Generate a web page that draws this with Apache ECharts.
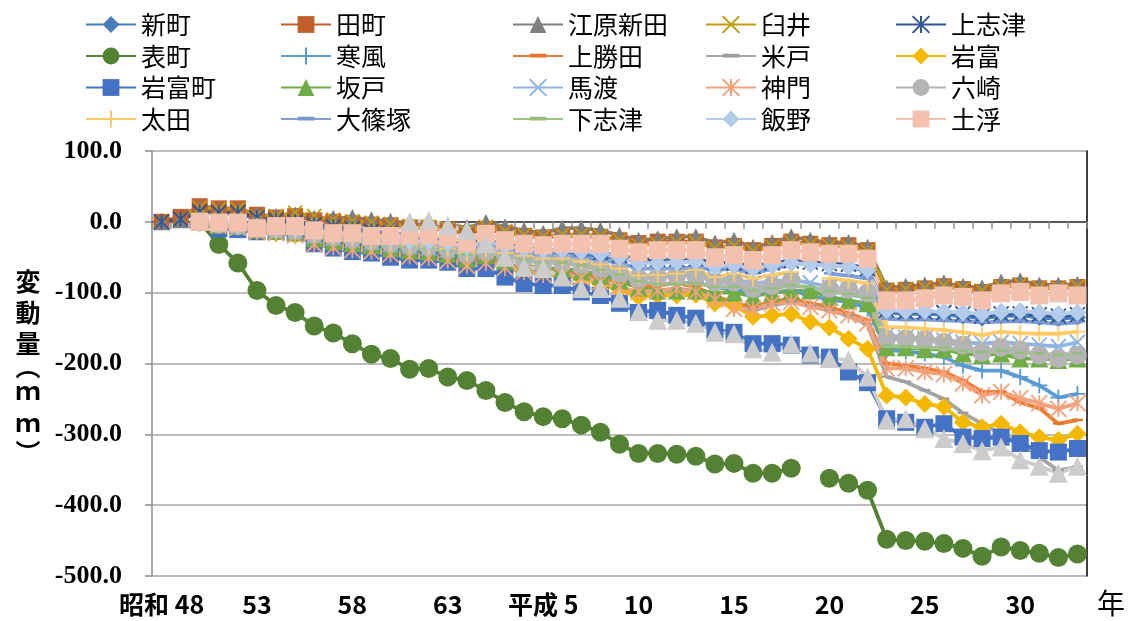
<!DOCTYPE html>
<html>
<head>
<meta charset="utf-8">
<script src="https://cdn.jsdelivr.net/npm/echarts@6/dist/echarts.min.js"></script>
<style>
  html, body { margin: 0; padding: 0; background: #fff; }
  #chart { width: 1130px; height: 621px; }
</style>
</head>
<body>
<div id="chart"></div>
<script>
// 年 (昭和48 ～ 令和3 を平成表記で)
const years = ['昭和 48', '49', '50', '51', '52', '53', '54', '55', '56', '57', '58', '59', '60', '61', '62', '63',
  '1', '2', '3', '4', '平成 5', '6', '7', '8', '9', '10', '11', '12', '13', '14', '15', '16', '17', '18', '19',
  '20', '21', '22', '23', '24', '25', '26', '27', '28', '29', '30', '31', '32', '33']

// 累積変動量 (mm)
const shinmachi = [0, 3, 14, 12, 12, 4, 0, -2, -8, -12, -14, -18, -22,
  -24, -26, -28, -34, -30, -36, -40, -44, -44, -46, -48, -52, -56,
  -56, -56, -56, -62, -62, -66, -62, -58, -60, -62, -63, -70,
  -128, -130, -130, -131, -133, -136, -133, -132, -135, -137, -135]
const tamachi = [0, 7, 22, 19, 19, 10, 6, 8, 2, 0, -2, -4, -5,
  -8, -9, -12, -17, -10, -16, -20, -22, -20, -20, -21, -26, -30,
  -28, -28, -28, -36, -34, -40, -34, -28, -31, -33, -33, -40,
  -97, -96, -94, -91, -95, -99, -92, -90, -94, -94, -92]
const ebarashinden = [0, 3, 18, 16, 16, 10, 8, 10, 5, 5, 6, 3, 1,
  -2, -2, -5, -8, -1, -7, -12, -16, -9, -9, -12, -19, -26,
  -24, -21, -21, -30, -26, -36, -29, -21, -26, -29, -29, -36,
  -93, -91, -89, -86, -91, -93, -85, -83, -89, -89, -88]
const usui = [0, 5, 20, 18, 18, 8, 8, 13, 8, 3, 1, -1, -3,
  -6, -7, -10, -14, -7, -13, -18, -21, -18, -18, -20, -26, -33,
  -31, -29, -29, -37, -34, -41, -35, -29, -32, -34, -35, -41,
  -96, -95, -93, -90, -94, -97, -91, -88, -93, -93, -91]
const kamishizu = [0, 4, 14, 13, 13, 6, 2, 0, -4, -7, -10, -13, -16,
  -19, -21, -24, -30, -26, -32, -36, -40, -40, -42, -44, -48, -52,
  -53, -53, -53, -58, -58, -63, -58, -55, -57, -59, -60, -66,
  -125, -127, -127, -128, -130, -133, -130, -130, -131, -133, -131]
const omotemachi = [null, null, 0, -32, -58, -97, -118, -128, -147, -157, -172, -187, -193,
  -208, -207, -219, -224, -238, -255, -268, -275, -278, -287, -297, -314, -327,
  -327, -328, -331, -342, -341, -355, -355, -348, null, -362, -369, -379,
  -448, -450, -451, -454, -461, -472, -459, -464, -468, -474, -469]
const kanpu = [null, null, 0, -4, -6, -12, -14, -16, -24, -28, -31, -34, -38,
  -41, -43, -46, -53, -48, -56, -62, -66, -66, -70, -74, -80, -88,
  -88, -87, -86, -92, -96, -103, -100, -97, -104, -110, -113, -122,
  -181, -183, -186, -191, -203, -210, -210, -219, -231, -248, -243]
const kamikatsuta = [null, null, 0, -4, -7, -13, -15, -17, -26, -30, -33, -36, -40,
  -44, -46, -49, -56, -52, -59, -65, -70, -70, -74, -79, -85, -92,
  -90, -87, -92, -104, -115, -120, -113, -108, -115, -120, -129, -139,
  -200, -203, -207, -212, -224, -240, -240, -255, -263, -285, -280]
const yonedo = [null, null, 0, -5, -8, -14, -16, -18, -27, -31, -35, -38, -42,
  -46, -48, -52, -59, -55, -62, -68, -73, -73, -78, -84, -92, -100,
  -97, -94, -98, -110, -120, -125, -118, -113, -118, -125, -133, -145,
  -219, -226, -238, -250, -270, -285, -299, -313, -332, -351, -346]
const iwatomi = [null, null, 0, -5, -8, -14, -16, -19, -28, -32, -36, -39, -43,
  -47, -49, -53, -60, -56, -64, -70, -76, -76, -80, -88, -96, -106,
  -104, -104, -103, -115, -118, -134, -132, -130, -141, -149, -165, -179,
  -245, -248, -257, -261, -283, -290, -285, -297, -304, -308, -299]
const iwatomimachi = [null, null, 0, -10, -11, -14, -13, -15, -31, -37, -42, -44, -50,
  -54, -54, -57, -66, -66, -78, -87, -90, -90, -99, -104, -115, -128,
  -125, -132, -136, -153, -156, -172, -172, -174, -188, -191, -212, -227,
  -278, -283, -290, -285, -304, -306, -304, -313, -323, -325, -320]
const sakado = [null, null, 0, -4, -6, -11, -13, -15, -23, -27, -30, -33, -37,
  -40, -42, -45, -52, -47, -55, -61, -66, -66, -70, -76, -83, -93,
  -97, -97, -97, -100, -100, -105, -100, -97, -97, -106, -111, -115,
  -177, -177, -180, -180, -186, -188, -186, -193, -193, -195, -193]
const mawatari = [null, null, 0, -3, -5, -10, -11, -13, -20, -23, -26, -29, -32,
  -35, -37, -40, -46, -42, -48, -53, -57, -57, -61, -65, -70, -76,
  -76, -75, -74, -79, -81, -87, -84, -82, -86, -92, -96, -103,
  -160, -163, -165, -167, -170, -172, -170, -172, -174, -176, -170]
const gomon = [null, null, 0, -5, -8, -14, -16, -19, -32, -36, -40, -42, -46,
  -49, -51, -55, -62, -58, -65, -71, -75, -75, -79, -85, -92, -99,
  -97, -95, -99, -110, -123, -123, -115, -113, -120, -125, -132, -143,
  -207, -207, -212, -215, -228, -245, -240, -249, -256, -264, -256]
const rokusaki = [null, null, 0, -3, -5, -9, -10, -12, -18, -21, -24, -27, -30,
  -33, -35, -38, -44, -40, -46, -52, -56, -56, -60, -66, -72, -80,
  -78, -76, -76, -85, -85, -94, -90, -83, null, -94, -95, -100,
  -165, -165, -166, -170, -174, -184, -177, -181, -188, -193, -188]
const ota = [null, null, 0, -3, -5, -9, -10, -12, -18, -21, -24, -27, -30,
  -33, -35, -38, -44, -38, -44, -48, -52, -52, -56, -60, -66, -76,
  -75, -73, -68, -78, -73, -80, -75, -71, null, -80, -83, -87,
  -149, -149, -151, -153, -156, -160, -155, -157, -158, -158, -155]
const oshinozuka = [null, null, 0, -2, -4, -8, -9, -10, -16, -19, -22, -24, -27,
  -30, -31, -34, -40, -34, -40, -44, -47, -47, -50, -54, -58, -66,
  -66, -66, -64, -68, -66, -73, -66, -61, null, -73, -76, -80,
  -137, -138, -138, -139, -140, -142, -141, -140, -142, -144, -142]
const shimoshizu = [null, null, 0, -3, -5, -9, -10, -12, -19, -22, -25, -28, -32,
  -35, -36, -40, -46, -41, -48, -54, -58, -58, -62, -68, -75, -84,
  -88, -88, -87, -92, -92, -97, -94, -90, -92, -98, -102, -108,
  -175, -176, -178, -178, -182, -184, -182, -185, -186, -188, -186]
const iino = [null, null, 0, -2, -4, -7, -8, -9, -14, -17, -19, -21, -24,
  -27, -28, -30, -35, -28, -34, -38, -40, -40, -42, -45, -50, -58,
  -58, -57, -56, -63, -61, -66, -61, -58, -60, -62, -63, -68,
  -125, -126, -126, -127, -128, -130, -127, -126, -128, -130, -128]
const tsuchiuki = [null, null, 0, -1, -1, -9, -6, -6, -12, -16, -16, -20, -20,
  -19, -19, -22, -29, -17, -26, -31, -33, -31, -31, -31, -38, -43,
  -40, -40, -40, -50, -47, -54, -47, -40, -43, -45, -45, -52,
  -111, -111, -108, -104, -106, -111, -101, -99, -104, -101, -104]
// 凡例に載っていない21番目の系列
const extra = [null, null, null, null, null, null, null, null, null, null, null, null, null,
  0, 2, -5, -12, -31, -50, -64, -66, -78, -94, -94, -108, -127,
  -139, -139, -143, -156, -158, -179, -184, -172, -185, -193, -195, -219,
  -280, -278, -292, -306, -313, -323, -318, -336, -345, -355, -345]

const X = 'path://M0,0L10,10M10,0L0,10'
const STAR = 'path://M5,0L5,10M0,0L10,10M10,0L0,10'
const PLUS = 'path://M5,0L5,10M0,5L10,5'
// 細い横棒 (上下の M で外枠を正方形にしておく)
const DASH = 'path://M0,0M0,4L10,4L10,6.5L0,6.5ZM10,11'

// [名前, データ, 色, マーカー, サイズ]
const defs = [
  ['新町', shinmachi, '#4A7EBB', 'diamond', 17],
  ['田町', tamachi, '#C0602A', 'rect', 16],
  ['江原新田', ebarashinden, '#7F7F7F', 'triangle', 17],
  ['臼井', usui, '#C49A0A', X, 14],
  ['上志津', kamishizu, '#2F5597', STAR, 15],
  ['表町', omotemachi, '#548235', 'circle', 19],
  ['寒風', kanpu, '#5B9BD5', PLUS, 16],
  ['上勝田', kamikatsuta, '#E8752B', DASH, 11],
  ['米戸', yonedo, '#9E9E9E', DASH, 11],
  ['岩富', iwatomi, '#F5B800', 'diamond', 18],
  ['岩富町', iwatomimachi, '#4472C4', 'rect', 17],
  ['坂戸', sakado, '#70AD47', 'triangle', 18],
  ['馬渡', mawatari, '#8FB4E3', X, 15],
  ['神門', gomon, '#F4A27C', STAR, 16],
  ['六崎', rokusaki, '#B4B4B4', 'circle', 19],
  ['太田', ota, '#FFCB66', PLUS, 16],
  ['大篠塚', oshinozuka, '#7896D2', DASH, 11],
  ['下志津', shimoshizu, '#94BF7A', DASH, 11],
  ['飯野', iino, '#B4CCEA', 'diamond', 18],
  ['土浮', tsuchiuki, '#F4C1AE', 'rect', 18],
  ['', extra, '#CCCCCC', 'triangle', 19]
]

const stroked = [X, STAR, PLUS]
const lineColor = {
  '上勝田': '#ED7D31', '米戸': '#A5A5A5', '大篠塚': '#7F9FD7', '下志津': '#9CC583'
}

const series = defs.map(([name, data, color, symbol, size]) => ({
  name: name,
  type: 'line',
  data: data,
  symbol: symbol,
  symbolSize: size,
  showAllSymbol: true,
  connectNulls: false,
  lineStyle: { color: lineColor[name] || color, width: 3.8 },
  itemStyle: stroked.includes(symbol)
    ? { color: color, borderColor: color, borderWidth: 1.8 }
    : { color: color, borderWidth: 0 },
  emphasis: { disabled: true }
}))

const legendCols = [
  { left: 80, names: ['新町', '表町', '岩富町', '太田'] },
  { left: 275, names: ['田町', '寒風', '坂戸', '大篠塚'] },
  { left: 507, names: ['江原新田', '上勝田', '馬渡', '下志津'] },
  { left: 700, names: ['臼井', '米戸', '神門', '飯野'] },
  { left: 890, names: ['上志津', '岩富', '六崎', '土浮'] }
]

// 縦書きの軸タイトル (文字ごとの中心 y)
const yTitle = [['変', 281], ['動', 312], ['量', 343], ['︵', 366], ['ｍ', 390], ['ｍ', 422], ['︶', 452]]

const chart = echarts.init(document.getElementById('chart'))
chart.setOption({
  animation: false,
  legend: legendCols.map(c => ({
    orient: 'vertical',
    left: c.left,
    top: 7,
    data: c.names,
    itemWidth: 50,
    itemHeight: 21,
    itemGap: 6.5,
    selectedMode: false,
    textStyle: { fontSize: 25, lineHeight: 25, color: '#000', fontFamily: 'Noto Sans CJK JP' }
  })),
  grid: { left: 152, right: 43, top: 151, bottom: 45 },
  xAxis: [{
    type: 'category',
    data: years,
    boundaryGap: true,
    axisLine: { lineStyle: { color: '#8C8C8C', width: 1.5 } },
    axisTick: { show: true, interval: 0, length: 7, lineStyle: { color: '#8C8C8C', width: 1.5 } },
    axisLabel: {
      interval: 4, margin: 16, fontSize: 25, fontWeight: 'bold', color: '#000',
      fontFamily: '"Liberation Sans Narrow", "Noto Sans CJK JP"'
    },
    splitLine: { show: false }
  }, {
    type: 'category',
    data: years,
    position: 'top',
    axisLine: { lineStyle: { color: '#595959', width: 2 } },
    axisTick: { show: false },
    axisLabel: { show: false }
  }],
  yAxis: [{
    type: 'value',
    min: -500,
    max: 100,
    interval: 100,
    axisLine: { show: true, lineStyle: { color: '#8C8C8C', width: 1.5 } },
    axisTick: { show: true, length: 7, lineStyle: { color: '#8C8C8C', width: 1.5 } },
    axisLabel: {
      formatter: v => v.toFixed(1), margin: 30, fontSize: 26, fontWeight: 'bold',
      color: '#000', fontFamily: 'Liberation Serif'
    },
    splitLine: { lineStyle: { color: '#A6A6A6', width: 1.5 } }
  }, {
    type: 'value',
    min: -500,
    max: 100,
    interval: 100,
    position: 'right',
    axisLine: { show: true, lineStyle: { color: '#000', width: 1.5 } },
    axisTick: { show: false },
    axisLabel: { show: false },
    splitLine: { show: false }
  }],
  graphic: yTitle.map(([ch, y]) => ({
    type: 'text',
    x: 28,
    y: y,
    style: {
      text: ch,
      font: 'bold 25px "Noto Sans CJK JP"',
      fill: '#000',
      align: 'center',
      verticalAlign: 'middle'
    }
  })).concat([{
    type: 'text',
    x: 1097,
    y: 603,
    style: { text: '年', font: '28px "Noto Sans CJK JP"', fill: '#000', verticalAlign: 'middle' }
  }]),
  series: series
})
</script>
</body>
</html>
